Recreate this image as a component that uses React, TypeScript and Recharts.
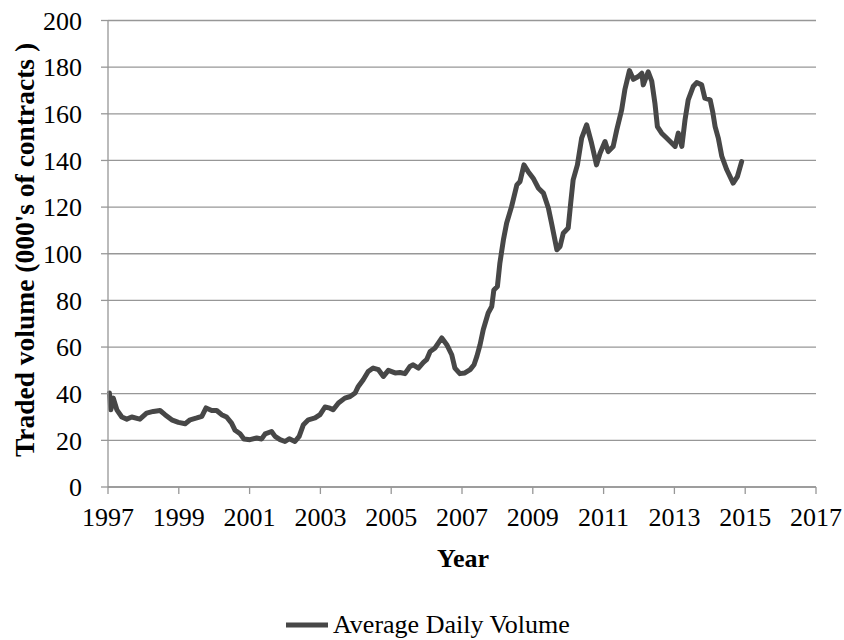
import { CartesianGrid, Legend, Line, LineChart, XAxis, YAxis } from "recharts";

document.body.style.margin = "0";

// weekly-ish reading of the average daily volume curve, 000's of contracts
const years = [
  1997.04, 1997.08, 1997.15, 1997.25, 1997.39, 1997.53, 1997.67, 1997.9, 1998.09, 1998.28,
  1998.47, 1998.61, 1998.8, 1998.99, 1999.18, 1999.32, 1999.51, 1999.65, 1999.77, 1999.93,
  2000.07, 2000.21, 2000.35, 2000.49, 2000.59, 2000.73, 2000.84, 2001.01, 2001.2, 2001.34,
  2001.44, 2001.62, 2001.72, 2001.86, 2002.0, 2002.12, 2002.28, 2002.4, 2002.52, 2002.66,
  2002.85, 2002.99, 2003.13, 2003.27, 2003.36, 2003.51, 2003.69, 2003.84, 2003.98, 2004.07,
  2004.21, 2004.35, 2004.49, 2004.64, 2004.78, 2004.92, 2005.11, 2005.25, 2005.39, 2005.53,
  2005.62, 2005.77, 2005.91, 2006.0, 2006.1, 2006.24, 2006.33, 2006.43, 2006.57, 2006.71,
  2006.8, 2006.94, 2007.08, 2007.23, 2007.34, 2007.42, 2007.51, 2007.6, 2007.74, 2007.84,
  2007.9, 2008.0, 2008.07, 2008.17, 2008.26, 2008.4, 2008.55, 2008.64, 2008.75, 2008.87,
  2009.01, 2009.16, 2009.3, 2009.44, 2009.53, 2009.68, 2009.77, 2009.86, 2010.0, 2010.07,
  2010.14, 2010.26, 2010.38, 2010.52, 2010.66, 2010.8, 2010.9, 2011.04, 2011.13, 2011.27,
  2011.37, 2011.51, 2011.6, 2011.73, 2011.84, 2011.98, 2012.08, 2012.12, 2012.26, 2012.36,
  2012.45, 2012.52, 2012.64, 2012.78, 2012.88, 2013.02, 2013.11, 2013.21, 2013.3, 2013.39,
  2013.53, 2013.63, 2013.77, 2013.86, 2014.01, 2014.08, 2014.15, 2014.24, 2014.34, 2014.48,
  2014.66, 2014.78, 2014.9,
];

const volume = [
  40.3, 33.1, 38.1, 33.1, 30.0, 29.1, 30.0, 29.1, 31.7, 32.4,
  32.8, 31.0, 28.8, 27.7, 27.1, 28.8, 29.6, 30.3, 33.9, 32.8,
  32.8, 31.0, 30.0, 27.4, 24.3, 22.8, 20.6, 20.3, 21.0, 20.6,
  22.8, 23.8, 21.7, 20.3, 19.5, 20.7, 19.5, 21.7, 26.7, 28.8,
  29.6, 31.0, 34.3, 33.8, 33.1, 36.0, 38.1, 38.8, 40.3, 43.1,
  46.0, 49.5, 51.0, 50.3, 47.4, 50.0, 48.9, 49.1, 48.6, 51.7,
  52.4, 51.0, 53.4, 54.6, 58.1, 59.6, 61.7, 63.9, 61.0, 56.7,
  51.0, 48.6, 48.9, 50.3, 52.4, 56.0, 61.0, 67.4, 74.6, 77.4,
  84.5, 86.0, 96.0, 106.0, 113.1, 120.2, 129.5, 131.0, 138.1, 135.2,
  132.4, 128.1, 126.0, 119.6, 113.1, 101.7, 103.1, 108.8, 111.0, 121.7,
  131.7, 138.1, 149.6, 155.3, 147.4, 138.1, 143.1, 148.1, 143.8, 146.0,
  153.0, 161.7, 170.3, 178.5, 174.8, 176.0, 177.4, 172.4, 178.0, 174.0,
  164.5, 154.5, 151.7, 149.6, 148.1, 146.0, 151.7, 146.0, 157.4, 166.0,
  171.7, 173.4, 172.4, 166.7, 166.0, 161.0, 154.5, 149.6, 141.7, 136.0,
  130.3, 133.1, 139.5,
];

const yearTicks = [1997, 1999, 2001, 2003, 2005, 2007, 2009, 2011, 2013, 2015, 2017];
const volumeTicks = [0, 20, 40, 60, 80, 100, 120, 140, 160, 180, 200];

const FONT = "'Liberation Serif', 'Times New Roman', serif";
const LINE = "#474747";
const GRID = "#979797";

const data = years.map((year, i) => ({ year, volume: volume[i] }));

function YTitle() {
  const cx = 24;
  const cy = 250;
  return (
    <text
      x={cx}
      y={cy}
      transform={`rotate(-90 ${cx} ${cy})`}
      textAnchor="middle"
      dominantBaseline="central"
      fontFamily={FONT}
      fontWeight="bold"
      fontSize={27.5}
      fill="#000"
    >
      Traded volume (000's of contracts )
    </text>
  );
}

function XTitle() {
  return (
    <text x={463} y={567} textAnchor="middle" fontFamily={FONT} fontWeight="bold" fontSize={26} fill="#000">
      Year
    </text>
  );
}

function LegendBox() {
  return (
    <div style={{ display: "flex", alignItems: "center", marginLeft: 286, height: 30 }}>
      <svg width={42} height={10}>
        <line x1={0} y1={5} x2={42} y2={5} stroke={LINE} strokeWidth={5} />
      </svg>
      <span style={{ fontFamily: FONT, fontSize: 26, lineHeight: "30px", marginLeft: 5, color: "#000" }}>
        Average Daily Volume
      </span>
    </div>
  );
}

export default function App() {
  return (
    <div style={{ width: 844, height: 640, background: "#fff", fontFamily: FONT }}>
      <LineChart width={844} height={640} data={data} margin={{ top: 20.5, right: 28, bottom: 53, left: 0 }}>
        <CartesianGrid vertical={false} stroke={GRID} strokeWidth={1.3} />
        <XAxis
          dataKey="year"
          type="number"
          domain={[1997, 2017]}
          ticks={yearTicks}
          interval={0}
          height={100}
          tickSize={7}
          tickMargin={14}
          axisLine={{ stroke: GRID, strokeWidth: 1.3 }}
          tickLine={{ stroke: GRID, strokeWidth: 1.3 }}
          tick={{ fill: "#000", fontSize: 26, fontFamily: FONT }}
          label={() => <XTitle />}
        />
        <YAxis
          type="number"
          domain={[0, 200]}
          ticks={volumeTicks}
          interval={0}
          width={108}
          tickSize={7}
          tickMargin={19}
          axisLine={{ stroke: GRID, strokeWidth: 1.3 }}
          tickLine={{ stroke: GRID, strokeWidth: 1.3 }}
          tick={{ fill: "#000", fontSize: 26, fontFamily: FONT }}
          label={() => <YTitle />}
        />
        <Legend
          verticalAlign="middle"
          align="center"
          layout="horizontal"
          wrapperStyle={{ top: 610, left: 0, width: 844 }}
          content={() => <LegendBox />}
        />
        <Line
          type="linear"
          dataKey="volume"
          name="Average Daily Volume"
          stroke={LINE}
          strokeWidth={5}
          strokeLinejoin="round"
          strokeLinecap="round"
          dot={false}
          activeDot={false}
          isAnimationActive={false}
        />
      </LineChart>
    </div>
  );
}
